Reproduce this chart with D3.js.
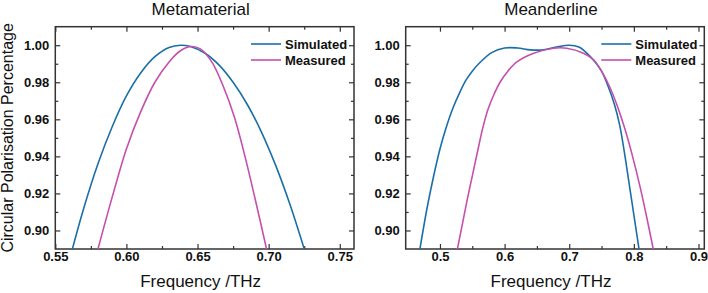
<!DOCTYPE html>
<html>
<head>
<meta charset="utf-8">
<script src="https://cdn.jsdelivr.net/npm/d3@7"></script>
<style>
  body { margin: 0; background: #fff; }
  svg { display: block; font-family: "Liberation Sans", Arial, sans-serif; }
  .tick text { font-weight: bold; font-size: 13px; fill: #111; }
  .tick line { stroke: #333; stroke-width: 1.2; }
</style>
</head>
<body>
<script>
// Metamaterial panel (frequency in THz, circular polarisation fraction)
const metaSimFreq = [0.562, 0.570, 0.580, 0.590, 0.600, 0.610, 0.620, 0.630, 0.638, 0.645, 0.655, 0.665, 0.675, 0.685, 0.695, 0.705, 0.715, 0.725];
const metaSimCP   = [0.890, 0.912, 0.936, 0.956, 0.9726, 0.985, 0.9938, 0.9988, 1.000, 0.9993, 0.9958, 0.9894, 0.980, 0.968, 0.953, 0.935, 0.914, 0.890];
const metaMeasFreq = [0.580, 0.590, 0.600, 0.610, 0.620, 0.630, 0.638, 0.645, 0.652, 0.660, 0.668, 0.676, 0.684, 0.692, 0.6985];
const metaMeasCP   = [0.890, 0.918, 0.944, 0.964, 0.980, 0.991, 0.997, 0.9993, 0.998, 0.991, 0.978, 0.961, 0.938, 0.912, 0.890];

// Meanderline panel
const meanSimFreq = [0.469, 0.480, 0.490, 0.500, 0.510, 0.520, 0.530, 0.540, 0.550, 0.560, 0.580, 0.600, 0.620, 0.640, 0.660, 0.680, 0.700, 0.715, 0.728, 0.740, 0.750, 0.760, 0.770, 0.778, 0.785, 0.795, 0.808];
const meanSimCP   = [0.890, 0.912, 0.929, 0.944, 0.956, 0.966, 0.974, 0.981, 0.986, 0.990, 0.996, 0.9985, 0.9985, 0.9975, 0.9975, 0.999, 1.000, 0.999, 0.9955, 0.991, 0.986, 0.978, 0.968, 0.957, 0.943, 0.920, 0.890];
const meanMeasFreq = [0.527, 0.535, 0.543, 0.551, 0.559, 0.566, 0.574, 0.583, 0.593, 0.605, 0.619, 0.645, 0.676, 0.696, 0.722, 0.738, 0.750, 0.762, 0.774, 0.786, 0.798, 0.810, 0.820, 0.830];
const meanMeasCP   = [0.890, 0.904, 0.918, 0.931, 0.944, 0.955, 0.965, 0.973, 0.980, 0.986, 0.991, 0.9957, 0.9984, 0.9984, 0.9957, 0.992, 0.986, 0.978, 0.9676, 0.955, 0.940, 0.923, 0.907, 0.890];

const titles = ['Metamaterial', 'Meanderline'];
const seriesNames = ['Simulated', 'Measured'];
const seriesColors = ['#1b6fa8', '#c64fae'];

const metaXMajor = [0.55, 0.60, 0.65, 0.70, 0.75];
const metaXMinor = [0.575, 0.625, 0.675, 0.725];
const meanXMajor = [0.5, 0.6, 0.7, 0.8, 0.9];
const meanXMinor = [0.55, 0.65, 0.75, 0.85];
const yMajor = [0.90, 0.92, 0.94, 0.96, 0.98, 1.00];
const yMinor = [0.91, 0.93, 0.95, 0.97, 0.99];

const zip = (xs, ys) => xs.map((x, i) => ({ x: x, y: ys[i] }));

const panels = [
  { title: titles[0], left: 55.3, right: 354, xDomain: [0.55, 0.76], xMajor: metaXMajor, xMinor: metaXMinor, fmt: d3.format('.2f'),
    series: [zip(metaSimFreq, metaSimCP), zip(metaMeasFreq, metaMeasCP)] },
  { title: titles[1], left: 405.7, right: 704.3, xDomain: [0.447, 0.909], xMajor: meanXMajor, xMinor: meanXMinor, fmt: d3.format('.1f'),
    series: [zip(meanSimFreq, meanSimCP), zip(meanMeasFreq, meanMeasCP)] }
];

const width = 708, height = 293;
const plotTop = 26.7, plotBottom = 249;

const svg = d3.select('body').append('svg')
  .attr('width', width)
  .attr('height', height);

svg.append('rect').attr('width', width).attr('height', height).attr('fill', '#fff');

const y = d3.scaleLinear().domain([0.89, 1.01]).range([plotBottom, plotTop]);

panels.forEach((p, pi) => {
  const x = d3.scaleLinear().domain(p.xDomain).range([p.left, p.right]);
  const g = svg.append('g');

  // clip
  const clipId = 'clip' + pi;
  svg.append('clipPath').attr('id', clipId)
    .append('rect')
    .attr('x', p.left).attr('y', plotTop)
    .attr('width', p.right - p.left).attr('height', plotBottom - plotTop);

  // axes, ticks inward
  const addAxis = (axis, transform) => {
    const a = g.append('g').attr('transform', transform).call(axis);
    a.select('.domain').remove();
    return a;
  };
  addAxis(d3.axisBottom(x).tickValues(p.xMajor).tickSize(-5).tickPadding(3).tickFormat(p.fmt), `translate(0,${plotBottom})`);
  addAxis(d3.axisBottom(x).tickValues(p.xMinor).tickSize(-3).tickFormat(''), `translate(0,${plotBottom})`);
  addAxis(d3.axisTop(x).tickValues(p.xMajor).tickSize(-5).tickFormat(''), `translate(0,${plotTop})`);
  addAxis(d3.axisTop(x).tickValues(p.xMinor).tickSize(-3).tickFormat(''), `translate(0,${plotTop})`);
  addAxis(d3.axisLeft(y).tickValues(yMajor).tickSize(-5).tickPadding(6).tickFormat(d3.format('.2f')), `translate(${p.left},0)`);
  addAxis(d3.axisLeft(y).tickValues(yMinor).tickSize(-3).tickFormat(''), `translate(${p.left},0)`);
  addAxis(d3.axisRight(y).tickValues(yMajor).tickSize(-5).tickFormat(''), `translate(${p.right},0)`);
  addAxis(d3.axisRight(y).tickValues(yMinor).tickSize(-3).tickFormat(''), `translate(${p.right},0)`);

  // frame
  g.append('rect')
    .attr('x', p.left).attr('y', plotTop)
    .attr('width', p.right - p.left).attr('height', plotBottom - plotTop)
    .attr('fill', 'none').attr('stroke', '#333').attr('stroke-width', 1.5);

  // curves
  const line = d3.line()
    .x(d => x(d.x))
    .y(d => y(d.y))
    .curve(d3.curveCatmullRom.alpha(0.5));

  p.series.forEach((s, si) => {
    g.append('path')
      .datum(s)
      .attr('clip-path', `url(#${clipId})`)
      .attr('d', line)
      .attr('fill', 'none')
      .attr('stroke', seriesColors[si])
      .attr('stroke-width', 1.6);
  });

  // legend
  seriesNames.forEach((name, si) => {
    const ly = 44 + si * 16;
    g.append('line')
      .attr('x1', p.right - 103).attr('x2', p.right - 73)
      .attr('y1', ly).attr('y2', ly)
      .attr('stroke', seriesColors[si]).attr('stroke-width', 1.6);
    g.append('text')
      .attr('x', p.right - 69).attr('y', ly + 4.5)
      .attr('font-size', 13).attr('font-weight', 'bold').attr('fill', '#111')
      .text(name);
  });

  // title
  g.append('text')
    .attr('x', (p.left + p.right) / 2 - 4).attr('y', 15)
    .attr('text-anchor', 'middle')
    .attr('font-size', 17).attr('fill', '#111')
    .text(p.title);

  // x label
  g.append('text')
    .attr('x', (p.left + p.right) / 2 - 4).attr('y', 287)
    .attr('text-anchor', 'middle')
    .attr('font-size', 17).attr('fill', '#111')
    .text('Frequency /THz');
});

// y label
svg.append('text')
  .attr('transform', `translate(13,${(plotTop + plotBottom) / 2}) rotate(-90)`)
  .attr('text-anchor', 'middle')
  .attr('font-size', 16).attr('fill', '#111')
  .text('Circular Polarisation Percentage');
</script>
</body>
</html>
